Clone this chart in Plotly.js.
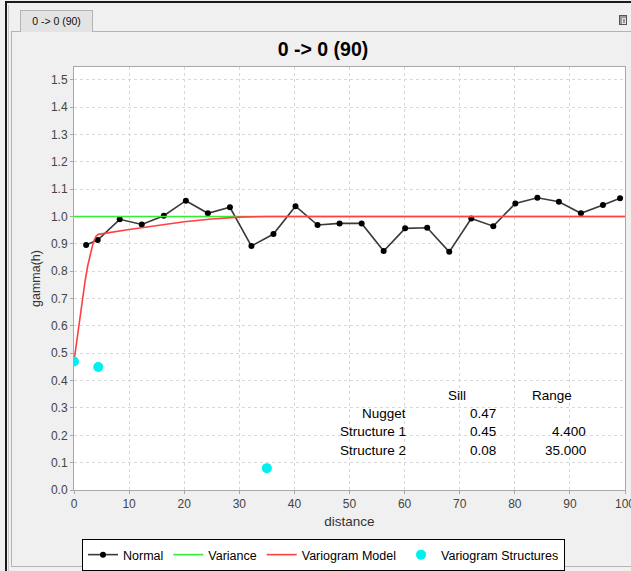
<!DOCTYPE html>
<html>
<head>
<meta charset="utf-8">
<script src="https://cdn.plot.ly/plotly-3.0.1.min.js"></script>
<style>
  html, body { margin:0; padding:0; width:631px; height:571px; overflow:hidden; background:#f0f0f0; font-family:"Liberation Sans", Arial, sans-serif; }
  .abs { position:absolute; }
  #frameTop { left:5px; top:1px; width:626px; height:2px; background:#1a1a1a; }
  #frameLeft { left:5px; top:1px; width:2px; height:570px; background:#1a1a1a; }
  #outerLine { left:8px; top:5px; width:1px; height:566px; background:#c8c8c8; }
  #panel { left:11px; top:31px; width:640px; height:536px; border:1px solid #b4b4b4; background:#f0f0f0; box-sizing:border-box; }
  #tab { left:20px; top:10px; width:73px; height:22px; border:1px solid #b4b4b4; border-bottom:none; background:#e3e3e3; box-sizing:border-box; font-size:10.5px; line-height:20px; text-align:center; color:#111; }
  #icon { left:619px; top:15px; width:8px; height:10px; border:1px solid #555; background:#9a9a9a; box-sizing:border-box; }
  #icon div { position:absolute; left:2px; top:2px; width:2px; height:4px; border:1px solid #e0e0e0; }
  #chart { left:0; top:0; width:631px; height:571px; }
</style>
</head>
<body>
<div class="abs" id="frameTop"></div>
<div class="abs" id="frameLeft"></div>
<div class="abs" id="outerLine"></div>
<div class="abs" id="panel"></div>
<div class="abs" id="tab">0 -&gt; 0 (90)</div>
<div class="abs" id="icon"><div></div></div>
<div class="abs" id="chart"></div>
<script>
// ---- data ----
const chartTitle = '0 -> 0 (90)';
const lagDistance = [2.2, 4.3, 8.3, 12.3, 16.3, 20.3, 24.3, 28.3, 32.2, 36.2, 40.2, 44.2, 48.2, 52.2, 56.2, 60.1, 64.1, 68.1, 72.1, 76.1, 80.1, 84.1, 88.0, 92.0, 96.0, 99.1];
const normalGamma = [0.896, 0.914, 0.990, 0.971, 1.003, 1.058, 1.012, 1.034, 0.892, 0.936, 1.038, 0.969, 0.975, 0.975, 0.874, 0.957, 0.959, 0.871, 0.993, 0.965, 1.048, 1.069, 1.054, 1.012, 1.042, 1.067];
const varianceX = [0, 100];
const varianceY = [1.0, 1.0];
const modelX = [0, 0.5, 1, 1.5, 2, 2.5, 3, 3.5, 4, 4.4, 10, 15, 20, 25, 30, 35, 100];
const modelY = [0.47, 0.548, 0.624, 0.696, 0.763, 0.821, 0.869, 0.906, 0.928, 0.935, 0.953, 0.968, 0.981, 0.991, 0.998, 1.0, 1.0];
const structX = [0, 4.4, 35];
const structY = [0.47, 0.45, 0.08];
const tableHeader = ['Sill', 'Range'];
const tableRows = ['Nugget', 'Structure 1', 'Structure 2'];
const tableSill = ['0.47', '0.45', '0.08'];
const tableRange = ['', '4.400', '35.000'];
const xTitle = 'distance';
const yTitle = 'gamma(h)';

// ---- layout helpers (pixel -> paper) ----
const W = 631, H = 571;
const L = 74, R = 625, T = 67, B = 490;
const px = x => (x - L) / (R - L);
const py = y => (B - y) / (B - T);
const FONT = '"Liberation Sans", Arial, sans-serif';
const TF = 13.5;

const traces = [
  { x: lagDistance, y: normalGamma, name: 'Normal', type: 'scatter', mode: 'lines+markers',
    line: { color: '#3a3a3a', width: 1.6 }, marker: { color: '#000', size: 6 } },
  { x: varianceX, y: varianceY, name: 'Variance', type: 'scatter', mode: 'lines',
    line: { color: '#33ee33', width: 1.6 } },
  { x: modelX, y: modelY, name: 'Variogram Model', type: 'scatter', mode: 'lines',
    line: { color: '#ff4040', width: 1.6 } },
  { x: structX, y: structY, name: 'Variogram Structures', type: 'scatter', mode: 'markers',
    marker: { color: '#00f0f0', size: 10 } }
];

const ann = [];
const colX = [px(457), px(552)];
tableHeader.forEach((h, i) => ann.push({ text: h, xref: 'paper', yref: 'paper', x: colX[i], y: py(395), xanchor: 'center', yanchor: 'middle', showarrow: false, font: { size: TF, color: '#000', family: FONT } }));
const rowY = [py(413), py(431), py(450)];
tableRows.forEach((r, i) => {
  ann.push({ text: r, xref: 'paper', yref: 'paper', x: px(408), y: rowY[i], xanchor: 'right', yanchor: 'middle', showarrow: false, font: { size: TF, color: '#000', family: FONT } });
  ann.push({ text: tableSill[i], xref: 'paper', yref: 'paper', x: px(498), y: rowY[i], xanchor: 'right', yanchor: 'middle', showarrow: false, font: { size: TF, color: '#000', family: FONT } });
  if (tableRange[i]) ann.push({ text: tableRange[i], xref: 'paper', yref: 'paper', x: px(588), y: rowY[i], xanchor: 'right', yanchor: 'middle', showarrow: false, font: { size: TF, color: '#000', family: FONT } });
});

const axisCommon = {
  showline: true, linecolor: '#a8a8a8', linewidth: 1, mirror: true,
  ticks: 'outside', ticklen: 3, tickcolor: '#a8a8a8', automargin: false,
  showgrid: true, gridcolor: '#d8d8d8', griddash: 'dot', gridwidth: 1,
  zeroline: false, tickfont: { size: 12, color: '#444', family: FONT },
  ticklabeloverflow: 'allow'
};

const layout = {
  width: W, height: H,
  margin: { l: L, r: W - R, t: T, b: H - B, pad: 0, autoexpand: false },
  paper_bgcolor: 'rgba(0,0,0,0)', plot_bgcolor: '#ffffff',
  font: { family: FONT },
  title: { text: '<b>' + chartTitle + '</b>', font: { size: 19.5, color: '#000', family: FONT },
           xref: 'container', yref: 'container', x: 323 / W, y: 1 - 49 / H, xanchor: 'center', yanchor: 'middle' },
  xaxis: Object.assign({}, axisCommon, { range: [0, 100], dtick: 10, tick0: 0,
           title: { text: xTitle, font: { size: 13.5, color: '#333', family: FONT }, standoff: 6 } }),
  yaxis: Object.assign({}, axisCommon, { range: [0, 1.547], dtick: 0.1, tick0: 0, tickformat: '.1f',
           title: { text: yTitle, font: { size: 12.5, color: '#333', family: FONT }, standoff: 7 } }),
  showlegend: true,
  legend: { orientation: 'h', xref: 'paper', yref: 'container', x: px(323.5), xanchor: 'center', y: 1 - 539 / H, yanchor: 'top',
            bgcolor: '#ffffff', bordercolor: '#000', borderwidth: 1, font: { size: 12.5, color: '#000', family: FONT },
            traceorder: 'normal', itemwidth: 30 },
  annotations: ann
};

Plotly.newPlot('chart', traces, layout, { displayModeBar: false, staticPlot: true });
</script>
</body>
</html>
